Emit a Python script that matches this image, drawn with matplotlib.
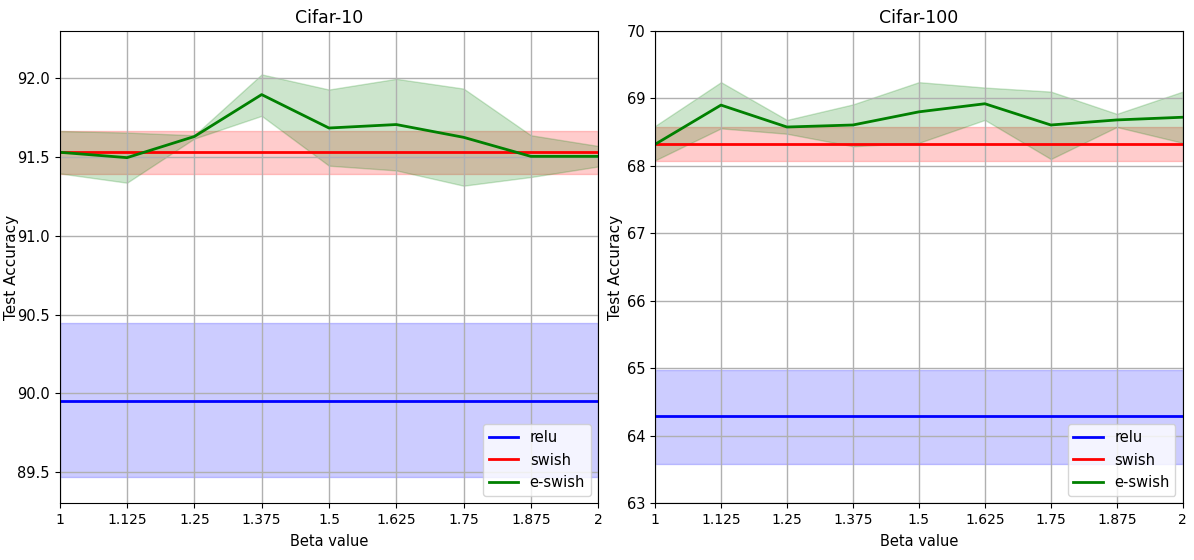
import numpy as np
import matplotlib
matplotlib.use("Agg")
import matplotlib.pyplot as plt

# %% data
beta = [1, 1.125, 1.25, 1.375, 1.5, 1.625, 1.75, 1.875, 2]
beta_labels = ["1", "1.125", "1.25", "1.375", "1.5", "1.625", "1.75", "1.875", "2"]

# Cifar-10
c10_relu = 89.955
c10_relu_band = (89.47, 90.445)
c10_swish = 91.53
c10_swish_band = (91.394, 91.665)
c10_eswish = [91.53, 91.496, 91.63, 91.896, 91.684, 91.706, 91.625, 91.504, 91.504]
c10_eswish_hi = [91.665, 91.655, 91.638, 92.024, 91.928, 91.996, 91.934, 91.638, 91.57]
c10_eswish_lo = [91.396, 91.337, 91.617, 91.761, 91.445, 91.415, 91.318, 91.373, 91.44]

# Cifar-100
c100_relu = 64.287
c100_relu_band = (63.584, 64.975)
c100_swish = 68.322
c100_swish_band = (68.07, 68.58)
c100_eswish = [68.318, 68.90, 68.575, 68.605, 68.80, 68.92, 68.605, 68.68, 68.72]
c100_eswish_hi = [68.59, 69.24, 68.68, 68.91, 69.24, 69.16, 69.10, 68.77, 69.10]
c100_eswish_lo = [68.08, 68.555, 68.475, 68.29, 68.34, 68.68, 68.10, 68.575, 68.34]

plt.rcParams["font.family"] = "DejaVu Sans"

fig = plt.figure(figsize=(11.94, 5.6), dpi=100)
ax1 = fig.add_axes([0.050, 0.1018, 0.451, 0.843])
ax2 = fig.add_axes([0.5486, 0.1018, 0.442, 0.843])


def draw(ax, title, relu, relu_band, swish, swish_band, es, es_hi, es_lo,
         ylim, yticks, yfmt, ylab_x):
    x = np.array(beta)
    n = len(x)
    ax.plot(x, [relu] * n, color="blue", lw=2, label="relu")
    ax.fill_between(x, [relu_band[0]] * n, [relu_band[1]] * n, color="blue", alpha=0.2)
    ax.plot(x, [swish] * n, color="red", lw=2, label="swish")
    ax.fill_between(x, [swish_band[0]] * n, [swish_band[1]] * n, color="red", alpha=0.2)
    ax.plot(x, es, color="green", lw=2, label="e-swish")
    ax.fill_between(x, es_lo, es_hi, color="green", alpha=0.2)

    ax.set_xlim(1, 2)
    ax.set_ylim(*ylim)
    ax.set_xticks(beta)
    ax.set_xticklabels(beta_labels, fontsize=10)
    ax.set_yticks(yticks)
    ax.set_yticklabels([yfmt.format(v) for v in yticks], fontsize=10.5)
    ax.grid(True, color="#b0b0b0", lw=1)
    ax.set_title(title, fontsize=12.5)
    ax.set_xlabel("Beta value", fontsize=10.5, labelpad=5)
    ax.set_ylabel("Test Accuracy", fontsize=11)
    ax.yaxis.set_label_coords(ylab_x, 0.5)
    ax.legend(loc="lower right", fontsize=10.5)


draw(ax1, "Cifar-10", c10_relu, c10_relu_band, c10_swish, c10_swish_band,
     c10_eswish, c10_eswish_hi, c10_eswish_lo, (89.305, 92.30),
     [89.5, 90.0, 90.5, 91.0, 91.5, 92.0], "{:.1f}", -0.076)
draw(ax2, "Cifar-100", c100_relu, c100_relu_band, c100_swish, c100_swish_band,
     c100_eswish, c100_eswish_hi, c100_eswish_lo, (63, 70),
     [63, 64, 65, 66, 67, 68, 69, 70], "{:.0f}", -0.061)

fig.savefig("out.png", dpi=100)
